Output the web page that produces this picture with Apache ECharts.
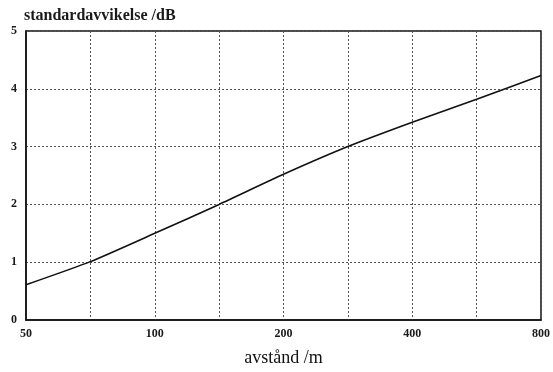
<!DOCTYPE html>
<html>
<head>
<meta charset="utf-8">
<script src="https://cdn.jsdelivr.net/npm/echarts@6/dist/echarts.min.js"></script>
<style>html,body{margin:0;padding:0;background:#fff;}#c{width:553px;height:372px;}</style>
</head>
<body>
<div id="c"></div>
<script>
const distances = ['50', '71', '100', '141', '200', '283', '400', '566', '800'];
const xTickLabels = ['50', '', '100', '', '200', '', '400', '', '800'];
const stdDev = [0.61, 1.01, 1.5, 2.0, 2.52, 3.0, 3.42, 3.82, 4.23];
const yTicks = [0, 1, 2, 3, 4, 5];

const chart = echarts.init(document.getElementById('c'));
const font = '"Liberation Serif", "DejaVu Serif", serif';
chart.setOption({
  animation: false,
  backgroundColor: '#fff',
  grid: { left: 26, right: 10, top: 31, bottom: 48, show: true, borderColor: '#111', borderWidth: 1.5, backgroundColor: 'transparent' },
  xAxis: {
    type: 'category',
    data: distances,
    boundaryGap: false,
    name: 'avstånd /m',
    nameLocation: 'middle',
    nameGap: 29,
    nameTextStyle: { fontFamily: font, fontSize: 18, color: '#111' },
    axisLine: { show: true, lineStyle: { color: '#111', width: 1.5 } },
    axisTick: { show: false },
    axisLabel: {
      interval: 0,
      margin: 8,
      fontFamily: font, fontSize: 12, color: '#1a1a1a', fontWeight: 'bold',
      formatter: (v, i) => xTickLabels[i]
    },
    splitLine: { show: true, lineStyle: { color: '#555', type: [2, 2], width: 1 } }
  },
  yAxis: {
    type: 'value',
    min: yTicks[0],
    max: yTicks[yTicks.length - 1],
    interval: 1,
    name: 'standardavvikelse /dB',
    nameLocation: 'end',
    nameGap: 7,
    nameTextStyle: { fontFamily: font, fontSize: 16, fontWeight: 'bold', color: '#1a1a1a', align: 'left', padding: [0, 0, 0, -2] },
    axisLine: { show: true, lineStyle: { color: '#111', width: 1.5 } },
    axisTick: { show: false },
    axisLabel: { margin: 9, fontFamily: font, fontSize: 12, color: '#1a1a1a', fontWeight: 'bold' },
    splitLine: { show: true, lineStyle: { color: '#555', type: [2, 2], width: 1 } }
  },
  series: [{
    type: 'line',
    data: stdDev,
    smooth: 0.2,
    symbol: 'none',
    lineStyle: { color: '#111', width: 1.6 }
  }]
});
</script>
</body>
</html>
